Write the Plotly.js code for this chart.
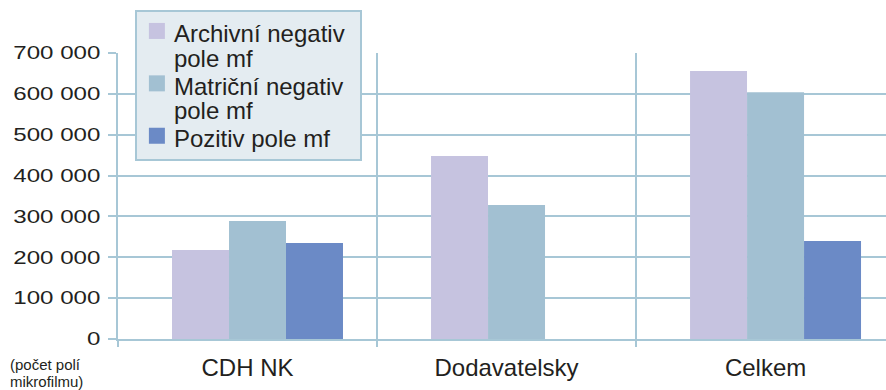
<!DOCTYPE html>
<html><head><meta charset="utf-8">
<script src="https://cdn.plot.ly/plotly-3.0.1.min.js"></script>
<style>
html,body{margin:0;padding:0;background:#fff}
#chart{width:886px;height:390px}
</style>
</head><body><div id="chart"></div>
<script>
const categories = ["CDH NK", "Dodavatelsky", "Celkem"];
const seriesNames = ["Archivní negativ<br>pole mf", "Matriční negativ<br>pole mf", "Pozitiv pole mf"];
const archivni = [218000, 448000, 656000];
const matricni = [289000, 328000, 604000];
const pozitiv = [235000, 0, 240000];
const yTicks = [0, 100000, 200000, 300000, 400000, 500000, 600000, 700000];
const unitLines = ["(počet polí", "mikrofilmu)"];

const colors = ["#c6c3e0", "#a2c0d2", "#6b8ac6"];
const offsets = [-0.2915, -0.0714, 0.1486];
const values = [archivni, matricni, pozitiv];

const traces = values.map((v, i) => ({
  type: "bar", x: categories, y: v, name: seriesNames[i],
  marker: {color: colors[i], line: {width: 0}},
  width: 0.22, offset: offsets[i], showlegend: false, hoverinfo: "none"
}));
values.forEach((v, i) => traces.push({
  type: "scatter", mode: "markers", x: [null], y: [null], name: seriesNames[i],
  marker: {symbol: "square", size: 19, color: colors[i]}, showlegend: true
}));

const axisColor = "#a7c7d6";
const textColor = "#231f20";
const layout = {
  width: 886, height: 390,
  margin: {l: 118, r: 0, t: 53, b: 51},
  paper_bgcolor: "#ffffff", plot_bgcolor: "#ffffff",
  separators: ", ",
  font: {family: "Liberation Sans, Arial, sans-serif", color: textColor},
  showlegend: true,
  legend: {
    x: 0.022, xanchor: "left", y: 1.15, yanchor: "top",
    bgcolor: "#e4ecf1", bordercolor: axisColor, borderwidth: 2,
    font: {size: 19, color: textColor}, valign: "top",
    itemwidth: 30, tracegroupgap: 0
  },
  xaxis: {
    type: "category", range: [-0.5, 2.465],
    showgrid: true, gridcolor: axisColor, gridwidth: 2,
    tickson: "boundaries", ticks: "outside", ticklen: 6, tickwidth: 2, tickcolor: axisColor,
    showline: true, linecolor: axisColor, linewidth: 2, ticklabelstandoff: 6,
    tickfont: {size: 24}, fixedrange: true, zeroline: false
  },
  yaxis: {
    range: [0, 700000], tickvals: yTicks, tickformat: ",d",
    showgrid: true, gridcolor: axisColor, gridwidth: 2,
    ticks: "outside", ticklen: 8, tickwidth: 2, tickcolor: axisColor,
    showline: true, linecolor: axisColor, linewidth: 2,
    zeroline: false, tickfont: {size: 18}, ticklabelstandoff: 4, fixedrange: true
  },
  annotations: unitLines.map((t, i) => ({
    text: t, xref: "paper", yref: "paper", x: -110/768, y: -(25 + i * 17) / 286,
    xanchor: "left", yanchor: "middle", showarrow: false, align: "left",
    font: {size: 15, color: textColor}
  }))
};

Plotly.newPlot("chart", traces, layout, {staticPlot: true, displayModeBar: false}).then(gd => {
  // legend: larger glyphs, same line pitch as the computed layout
  const base = 19, big = 24, extraW = 42, extraH = 4;
  gd.querySelectorAll(".legend text.legendtext").forEach(t => {
    t.querySelectorAll("tspan.line").forEach(ts => {
      const dy = ts.getAttribute("dy");
      if (dy && /em$/.test(dy)) ts.setAttribute("dy", (parseFloat(dy) * base) + "px");
    });
    t.style.fontSize = big + "px";
    const tr = t.getAttribute("transform") || "";
    t.setAttribute("transform", tr + " translate(-3,4)");
  });
  const bg = gd.querySelector(".legend rect.bg");
  if (bg) {
    bg.setAttribute("width", parseFloat(bg.getAttribute("width")) + extraW);
    bg.setAttribute("height", parseFloat(bg.getAttribute("height")) + extraH);
  }
  document.querySelectorAll("clipPath[id^='legend'] rect").forEach(r => {
    r.setAttribute("width", parseFloat(r.getAttribute("width")) + extraW);
    r.setAttribute("height", parseFloat(r.getAttribute("height")) + extraH);
  });
  // y tick labels: horizontally widened as in the reference
  const sx = 1.34;
  gd.querySelectorAll(".ytick text").forEach(t => {
    const bb = t.getBBox();
    const R = bb.x + bb.width;
    const tr = t.getAttribute("transform") || "";
    t.setAttribute("transform", tr + " translate(" + R + ",0) scale(" + sx + ",1) translate(" + (-R) + ",0)");
  });
});
</script></body></html>
